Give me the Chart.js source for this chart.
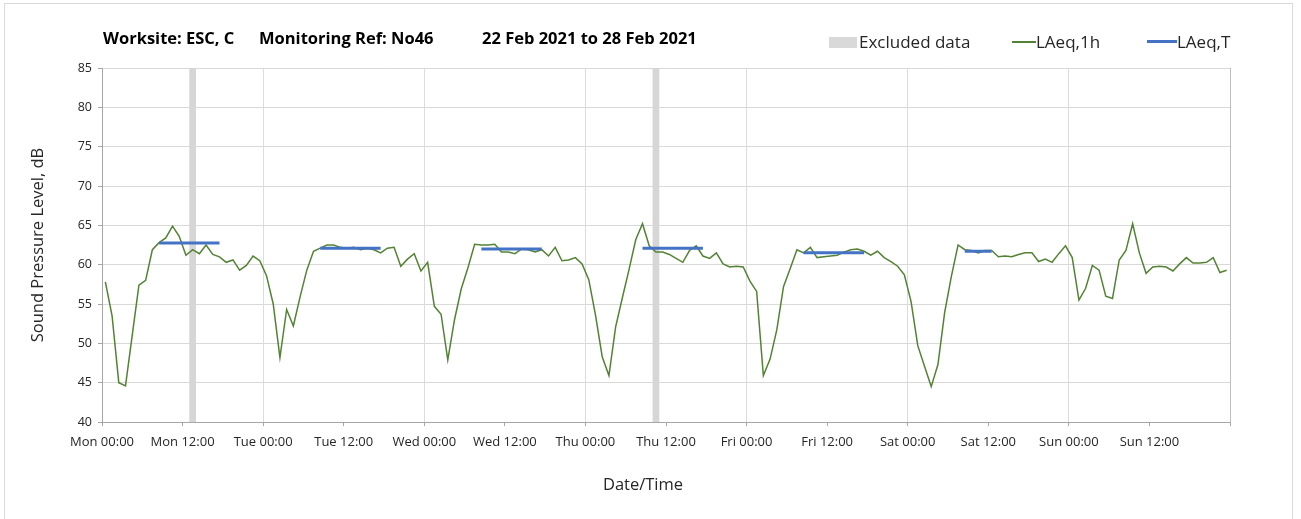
<!DOCTYPE html>
<html>
<head>
<meta charset="utf-8">
<script src="https://cdn.jsdelivr.net/npm/chart.js@4.4.1/dist/chart.umd.min.js"></script>
<style>
  body { margin: 0; background: #fff; font-family: "Open Sans", sans-serif; }
  #wrap { position: relative; width: 1301px; height: 519px; overflow: hidden; }
  #frame { position: absolute; left: 4px; top: 3px; width: 1287px; height: 530px; border: 1px solid #d9d9d9; }
  #myChart { position: absolute; left: 0; top: 0; }
  .ttl { position: absolute; top: 26px; font-size: 16.5px; font-weight: bold; color: #000; white-space: pre; line-height: 24px; }
  .leg { position: absolute; top: 30px; font-size: 17px; color: #262626; white-space: pre; line-height: 24px; }
  .sw { position: absolute; }
  #xtitle { position: absolute; top: 472px; left: 0; width: 1286px; text-align: center; font-size: 16.5px; color: #262626; }
</style>
</head>
<body>
<div id="wrap">
  <div id="frame"></div>
  <canvas id="myChart" width="1301" height="519"></canvas>
  <div class="ttl" style="left:103px;">Worksite: ESC, C</div>
  <div class="ttl" style="left:259px;">Monitoring Ref: No46</div>
  <div class="ttl" style="left:482px;">22 Feb 2021 to 28 Feb 2021</div>
  <div class="sw" style="left:829px; top:37px; width:28px; height:11px; background:#d9d9d9;"></div>
  <div class="leg" style="left:859px;">Excluded data</div>
  <div class="sw" style="left:1012px; top:41px; width:24px; height:1.5px; background:#548235;"></div>
  <div class="leg" style="left:1036px;">LAeq,1h</div>
  <div class="sw" style="left:1147px; top:40px; width:30px; height:3px; background:#4472c4;"></div>
  <div class="leg" style="left:1177px;">LAeq,T</div>
  <div id="xtitle">Date/Time</div>
</div>
<script>
// hourly LAeq,1h values, Mon 00:00 .. Sun 23:00 (plotted mid-hour)
const laeq1h = [
    57.8, 53.5, 45.0, 44.6, 51.0, 57.4, 58.0, 61.9, 62.8, 63.4, 64.9, 63.6, 61.2, 61.9, 61.4, 62.5, 61.3, 61.0, 60.3, 60.6, 59.3, 59.9, 61.1, 60.5,
    58.6, 55.0, 48.2, 54.3, 52.2, 55.9, 59.3, 61.7, 62.1, 62.5, 62.5, 62.2, 62.1, 62.2, 61.9, 62.1, 61.9, 61.5, 62.1, 62.2, 59.8, 60.7, 61.4, 59.2,
    60.3, 54.7, 53.7, 47.9, 53.0, 56.9, 59.6, 62.6, 62.5, 62.5, 62.6, 61.6, 61.6, 61.4, 62.0, 61.9, 61.6, 61.9, 61.1, 62.2, 60.5, 60.6, 60.9, 60.1,
    58.1, 53.6, 48.3, 45.9, 52.1, 55.8, 59.4, 63.2, 65.2, 62.4, 61.6, 61.6, 61.3, 60.8, 60.3, 61.8, 62.4, 61.1, 60.8, 61.5, 60.1, 59.7, 59.8, 59.7,
    57.9, 56.6, 45.9, 48.0, 51.7, 57.2, 59.5, 61.9, 61.5, 62.2, 60.9, 61.0, 61.1, 61.2, 61.6, 61.9, 62.0, 61.7, 61.2, 61.7, 60.9, 60.4, 59.8, 58.7,
    55.3, 49.7, 47.1, 44.5, 47.3, 53.9, 58.5, 62.5, 61.9, 61.8, 61.5, 61.8, 61.8, 61.0, 61.1, 61.0, 61.3, 61.5, 61.5, 60.4, 60.7, 60.3, 61.4, 62.4,
    60.9, 55.5, 57.0, 59.9, 59.3, 56.0, 55.7, 60.6, 61.8, 65.2, 61.5, 58.9, 59.7, 59.8, 59.7, 59.2, 60.1, 60.9, 60.2, 60.2, 60.3, 60.9, 59.0, 59.3
];

// LAeq,T over each working period (hours from Mon 00:00)
const periodStart = [8.5, 32.5, 56.5, 80.5, 104.5, 128.5];
const periodEnd   = [17.5, 41.5, 65.5, 89.5, 113.5, 132.5];
const laeqT       = [62.75, 62.1, 62.0, 62.1, 61.5, 61.7];

// excluded hours
const excludedStart = [13, 82];
const excludedEnd   = [14, 83];

const tickLabels = [
    "Mon 00:00", "Mon 12:00", "Tue 00:00", "Tue 12:00", "Wed 00:00", "Wed 12:00", "Thu 00:00",
    "Thu 12:00", "Fri 00:00", "Fri 12:00", "Sat 00:00", "Sat 12:00", "Sun 00:00", "Sun 12:00"
];

let lineData = laeq1h.map((v, i) => ({x: i + 0.5, y: v}));
let tData = [];
for (let i = 0; i < laeqT.length; i++) {
    tData.push({x: periodStart[i], y: laeqT[i]});
    tData.push({x: periodEnd[i], y: laeqT[i]});
    tData.push({x: periodEnd[i], y: null});
}

const excludedPlugin = {
    id: "excluded",
    beforeDatasetsDraw(chart) {
        const {ctx, chartArea, scales} = chart;
        ctx.save();
        ctx.fillStyle = "#d6d6d6";
        for (let i = 0; i < excludedStart.length; i++) {
            let x0 = scales.x.getPixelForValue(excludedStart[i]);
            let x1 = scales.x.getPixelForValue(excludedEnd[i]);
            ctx.fillRect(x0, chartArea.top, x1 - x0, chartArea.bottom - chartArea.top);
        }
        ctx.restore();
    }
};

const ctx = document.getElementById("myChart");
const config = {
    type: "line",
    data: {
        datasets: [
            {
                label: "LAeq,T",
                data: tData,
                borderColor: "#4472c4",
                borderWidth: 3,
                pointRadius: 0,
                spanGaps: false,
                tension: 0,
            },
            {
                label: "LAeq,1h",
                data: lineData,
                borderColor: "#548235",
                borderWidth: 1.5,
                pointRadius: 0,
                tension: 0,
            },
        ]
    },
    options: {
        responsive: false,
        animation: false,
        layout: {
            padding: {left: 0, top: 68, right: 71, bottom: 0}
        },
        plugins: {
            legend: {display: false},
            title: {display: false},
            tooltip: {enabled: false},
        },
        scales: {
            x: {
                type: "linear",
                min: 0,
                max: 168,
                afterFit(scale) { scale.height = 97; },
                border: {color: "#a6a6a6", width: 1},
                grid: {
                    color: (c) => {
                        if (!c.tick) return "rgba(0,0,0,0)";
                        if (c.tick.value === 168) return "#bfbfbf";
                        return c.tick.value % 24 === 0 ? "#dcdcdc" : "rgba(0,0,0,0)";
                    },
                    tickColor: "#a6a6a6",
                    tickLength: 4,
                },
                ticks: {
                    stepSize: 12,
                    autoSkip: false,
                    maxRotation: 0,
                    padding: 8,
                    color: "#262626",
                    font: {family: "Open Sans", size: 13},
                    callback: (v) => tickLabels[v / 12] || "",
                },
            },
            y: {
                min: 40,
                max: 85,
                afterFit(scale) { scale.width = 102; },
                border: {color: "#a6a6a6", width: 1},
                grid: {
                    color: "#d9d9d9",
                    tickColor: "#a6a6a6",
                    tickLength: 4,
                },
                ticks: {
                    stepSize: 5,
                    padding: 6,
                    color: "#262626",
                    font: {family: "Open Sans", size: 12.5},
                },
                title: {
                    display: true,
                    text: "Sound Pressure Level, dB",
                    color: "#262626",
                    font: {family: "Open Sans", size: 16.5},
                    padding: {top: 28, bottom: 0},
                },
            },
        },
    },
    plugins: [excludedPlugin],
};
let chart = new Chart(ctx, config);
</script>
</body>
</html>
